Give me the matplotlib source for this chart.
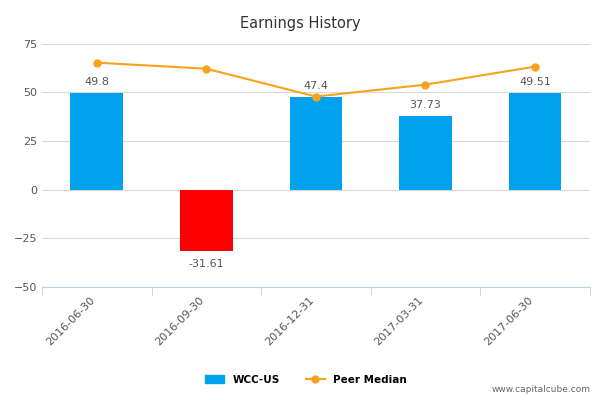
import matplotlib.pyplot as plt
import numpy as np

dates = ['2016-06-30', '2016-09-30', '2016-12-31', '2017-03-31', '2017-06-30']
eps = [49.8, -31.61, 47.4, 37.73, 49.51]
eps_labels = ['49.8', '-31.61', '47.4', '37.73', '49.51']
peer_median = [65.2, 62.1, 47.8, 53.9, 63.2]

fig = plt.figure(figsize=(6, 4), dpi=100)
ax = fig.add_axes([0.07, 0.283, 0.913, 0.642])

x = np.arange(len(dates))
colors = ['#00a2ed' if v >= 0 else '#ff0000' for v in eps]
ax.bar(x, eps, width=0.48, color=colors, zorder=2)
for xi, v, lab in zip(x, eps, eps_labels):
    if v >= 0:
        ax.text(xi, v + 3, lab, ha='center', va='bottom', fontsize=8, color='#555555')
    else:
        ax.text(xi, v - 4, lab, ha='center', va='top', fontsize=8, color='#555555')

ax.plot(x, peer_median, color='#f7a21b', linewidth=1.5, marker='o', markersize=5, zorder=3)

ax.set_xlim(-0.5, len(dates) - 0.5)
ax.set_ylim(-50, 82)
ax.set_yticks([-50, -25, 0, 25, 50, 75])
ax.set_xticks(x)
ax.set_xticklabels(dates, rotation=45, ha='right', fontsize=8, color='#555555')
ax.set_xticks(np.arange(-0.5, len(dates)), minor=True)
ax.tick_params(axis='x', which='major', length=0, pad=6)
ax.tick_params(axis='x', which='minor', length=6, color='#c0d0e0')
ax.tick_params(axis='y', length=0, labelsize=8, labelcolor='#555555')
ax.grid(axis='y', color='#d8d8d8', linewidth=0.8, zorder=0)
for s in ['top', 'right', 'left']:
    ax.spines[s].set_visible(False)
ax.spines['bottom'].set_color('#c0d0e0')

fig.suptitle('Earnings History', y=0.96, fontsize=10.5, color='#333333')

h1 = plt.Rectangle((0, 0), 1, 1, color='#00a2ed')
h2, = plt.plot([], [], color='#f7a21b', marker='o', markersize=5)
fig.legend([h1, h2], ['WCC-US', 'Peer Median'], loc='lower center', ncol=2,
           bbox_to_anchor=(0.51, 0.015), frameon=False, fontsize=7.5,
           prop={'weight': 'bold', 'size': 7.5}, handlelength=1.8, columnspacing=2.5)
fig.text(0.985, 0.015, 'www.capitalcube.com', ha='right', va='bottom', fontsize=6.5, color='#666666')

plt.savefig('out.png')
